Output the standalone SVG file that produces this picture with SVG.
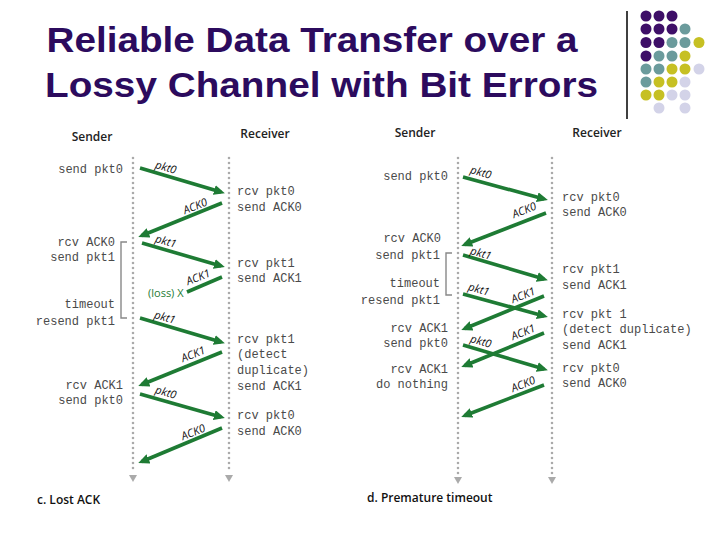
<svg xmlns="http://www.w3.org/2000/svg" width="720" height="540" viewBox="0 0 720 540">
<style>
.title{font-family:"Liberation Sans",Arial,sans-serif;font-weight:bold;font-size:34.5px;fill:#2c0b5e}
.hdr{font-family:"Open Sans","Liberation Sans",sans-serif;font-weight:600;font-size:12px;fill:#222}
.cap{font-family:"Open Sans","Liberation Sans",sans-serif;font-weight:600;font-size:12px;fill:#111}
.mono{font-family:"Liberation Mono","Courier New",monospace;font-size:12px;fill:#4a4a4a}
.end{text-anchor:end}
.lbl{font-family:"Open Sans","Liberation Sans",sans-serif;font-style:italic;font-size:11px;fill:#111;text-anchor:middle}
.loss{font-family:"Open Sans","Liberation Sans",sans-serif;font-size:11px;fill:#1e7b34}
.tl{stroke:#aaaaaa;stroke-width:2.6;stroke-dasharray:0 5;stroke-linecap:round;fill:none}
.tri{fill:#aaaaaa}
.br{stroke:#888;stroke-width:1.4;fill:none}
.ar{stroke:#1e7b34;stroke-width:3.6;fill:none;marker-end:url(#ah)}
.arn{stroke:#1e7b34;stroke-width:3.6;fill:none}
.P{fill:#3e0f68}.T{fill:#6b9b9c}.Y{fill:#c6c023}.L{fill:#d3d3e8}
</style>
<defs>
<marker id="ah" markerUnits="userSpaceOnUse" viewBox="0 0 11 10" markerWidth="11" markerHeight="10" refX="7" refY="5" orient="auto">
<path d="M0,0 L11,5 L0,10 z" fill="#1e7b34"/>
</marker>
</defs>
<rect width="720" height="540" fill="#ffffff"/>

<g id="title">
<text class="title" x="46.5" y="52" textLength="531" lengthAdjust="spacingAndGlyphs">Reliable Data Transfer over a</text>
<text class="title" x="45" y="97" textLength="553" lengthAdjust="spacingAndGlyphs">Lossy Channel with Bit Errors</text>
</g>

<g id="decoration">
<line x1="627" y1="11" x2="627" y2="119" stroke="#000" stroke-width="1.5"/>
<g>
<circle class="P" cx="646" cy="16" r="5.5"/><circle class="P" cx="659" cy="16" r="5.5"/><circle class="P" cx="672" cy="16" r="5.5"/>
<circle class="P" cx="646" cy="29" r="5.5"/><circle class="P" cx="659" cy="29" r="5.5"/><circle class="P" cx="672" cy="29" r="5.5"/><circle class="T" cx="685" cy="29" r="5.5"/>
<circle class="P" cx="646" cy="42.5" r="5.5"/><circle class="P" cx="659" cy="42.5" r="5.5"/><circle class="T" cx="672" cy="42.5" r="5.5"/><circle class="T" cx="685" cy="42.5" r="5.5"/><circle class="Y" cx="699" cy="42.5" r="5.5"/>
<circle class="P" cx="646" cy="56" r="5.5"/><circle class="T" cx="659" cy="56" r="5.5"/><circle class="T" cx="672" cy="56" r="5.5"/><circle class="Y" cx="685" cy="56" r="5.5"/>
<circle class="T" cx="646" cy="69" r="5.5"/><circle class="T" cx="659" cy="69" r="5.5"/><circle class="Y" cx="672" cy="69" r="5.5"/><circle class="Y" cx="685" cy="69" r="5.5"/><circle class="L" cx="699" cy="69" r="5.5"/>
<circle class="T" cx="646" cy="82" r="5.5"/><circle class="Y" cx="659" cy="82" r="5.5"/><circle class="Y" cx="672" cy="82" r="5.5"/><circle class="L" cx="685" cy="82" r="5.5"/>
<circle class="Y" cx="646" cy="95" r="5.5"/><circle class="Y" cx="659" cy="95" r="5.5"/><circle class="L" cx="672" cy="95" r="5.5"/><circle class="L" cx="685" cy="95" r="5.5"/>
<circle class="L" cx="659" cy="108" r="5.5"/><circle class="L" cx="685" cy="108" r="5.5"/>
</g>
</g>

<!-- Panel c -->
<g id="c-sender">
<text class="hdr" x="92" y="141" text-anchor="middle">Sender</text>
<line class="tl" x1="133" y1="158" x2="133" y2="472"/>
<path class="tri" d="M129,475 L137,475 L133,482 z"/>
</g>
<g id="c-receiver">
<text class="hdr" x="265" y="138" text-anchor="middle">Receiver</text>
<line class="tl" x1="229" y1="158" x2="229" y2="472"/>
<path class="tri" d="M225,475 L233,475 L229,482 z"/>
</g>
<g id="c-sender-events">
<text class="mono end" x="123" y="173">send pkt0</text>
<text class="mono end" x="115" y="246">rcv ACK0</text>
<text class="mono end" x="115" y="261">send pkt1</text>
<text class="mono end" x="115" y="308">timeout</text>
<text class="mono end" x="115" y="325">resend pkt1</text>
<text class="mono end" x="123" y="389">rcv ACK1</text>
<text class="mono end" x="123" y="404">send pkt0</text>
<path class="br" d="M127,242 H121 V318 H127"/>
</g>
<g id="c-receiver-events">
<text class="mono" x="237" y="195">rcv pkt0</text>
<text class="mono" x="237" y="211">send ACK0</text>
<text class="mono" x="237" y="267">rcv pkt1</text>
<text class="mono" x="237" y="282">send ACK1</text>
<text class="mono" x="237" y="343">rcv pkt1</text>
<text class="mono" x="237" y="358">(detect</text>
<text class="mono" x="237" y="374">duplicate)</text>
<text class="mono" x="237" y="390">send ACK1</text>
<text class="mono" x="237" y="419">rcv pkt0</text>
<text class="mono" x="237" y="435">send ACK0</text>
</g>
<g id="c-caption">
<text class="cap" x="37" y="504">c. Lost ACK</text>
</g>

<!-- Panel d -->
<g id="d-sender">
<text class="hdr" x="415" y="137" text-anchor="middle">Sender</text>
<line class="tl" x1="458" y1="158" x2="458" y2="474"/>
<path class="tri" d="M454,477 L462,477 L458,484 z"/>
</g>
<g id="d-receiver">
<text class="hdr" x="597" y="137" text-anchor="middle">Receiver</text>
<line class="tl" x1="552" y1="158" x2="552" y2="474"/>
<path class="tri" d="M548,477 L556,477 L552,484 z"/>
</g>
<g id="d-sender-events">
<text class="mono end" x="448" y="180">send pkt0</text>
<text class="mono end" x="441" y="242">rcv ACK0</text>
<text class="mono end" x="440" y="259">send pkt1</text>
<text class="mono end" x="440" y="287">timeout</text>
<text class="mono end" x="440" y="304">resend pkt1</text>
<text class="mono end" x="448" y="332">rcv ACK1</text>
<text class="mono end" x="448" y="347">send pkt0</text>
<text class="mono end" x="448" y="373">rcv ACK1</text>
<text class="mono end" x="448" y="388">do nothing</text>
<path class="br" d="M452,253 H446 V295 H452"/>
</g>
<g id="d-receiver-events">
<text class="mono" x="562" y="201">rcv pkt0</text>
<text class="mono" x="562" y="216">send ACK0</text>
<text class="mono" x="562" y="273">rcv pkt1</text>
<text class="mono" x="562" y="289">send ACK1</text>
<text class="mono" x="562" y="318">rcv pkt 1</text>
<text class="mono" x="562" y="333">(detect duplicate)</text>
<text class="mono" x="562" y="349">send ACK1</text>
<text class="mono" x="562" y="372">rcv pkt0</text>
<text class="mono" x="562" y="387">send ACK0</text>
</g>
<g id="d-caption">
<text class="cap" x="367" y="502">d. Premature timeout</text>
</g>

<g id="connectors">
<!-- panel c -->
<path class="ar" d="M140,168 L221,192"/>
<path class="ar" d="M222,203 L142,235.5"/>
<path class="ar" d="M142,243 L221,266"/>
<path class="arn" d="M222,277 L187,292"/>
<path class="ar" d="M140,318 L221,342"/>
<path class="ar" d="M222,352 L142,384.5"/>
<path class="ar" d="M140,394 L221,417"/>
<path class="ar" d="M222,428 L142,461.5"/>
<text class="loss" x="148" y="297">(loss) X</text>
<g transform="translate(166,167) rotate(16)"><text class="lbl" y="4">pkt0</text></g>
<g transform="translate(195,206) rotate(-22)"><text class="lbl" y="4">ACK0</text></g>
<g transform="translate(166,241) rotate(16)"><text class="lbl" y="4">pkt1</text></g>
<g transform="translate(198,277) rotate(-22)"><text class="lbl" y="4">ACK1</text></g>
<g transform="translate(165,317) rotate(16)"><text class="lbl" y="4">pkt1</text></g>
<g transform="translate(193,354) rotate(-22)"><text class="lbl" y="4">ACK1</text></g>
<g transform="translate(166,392) rotate(16)"><text class="lbl" y="4">pkt0</text></g>
<g transform="translate(193,432) rotate(-22)"><text class="lbl" y="4">ACK0</text></g>
<!-- panel d -->
<path class="ar" d="M463,177 L544,199"/>
<path class="ar" d="M546,213 L465,244.5"/>
<path class="ar" d="M463,255 L544,279"/>
<path class="ar" d="M463,294 L544,316"/>
<path class="ar" d="M544,296 L465,328.5"/>
<path class="ar" d="M544,333 L465,365.5"/>
<path class="ar" d="M463,345 L544,369"/>
<path class="ar" d="M544,385 L465,415.5"/>
<g transform="translate(481,172) rotate(16)"><text class="lbl" y="4">pkt0</text></g>
<g transform="translate(524,210) rotate(-22)"><text class="lbl" y="4">ACK0</text></g>
<g transform="translate(481,253) rotate(16)"><text class="lbl" y="4">pkt1</text></g>
<g transform="translate(479,289) rotate(16)"><text class="lbl" y="4">pkt1</text></g>
<g transform="translate(523,295) rotate(-22)"><text class="lbl" y="4">ACK1</text></g>
<g transform="translate(481,341) rotate(16)"><text class="lbl" y="4">pkt0</text></g>
<g transform="translate(523,332) rotate(-22)"><text class="lbl" y="4">ACK1</text></g>
<g transform="translate(523,384) rotate(-22)"><text class="lbl" y="4">ACK0</text></g>
</g>
</svg>
